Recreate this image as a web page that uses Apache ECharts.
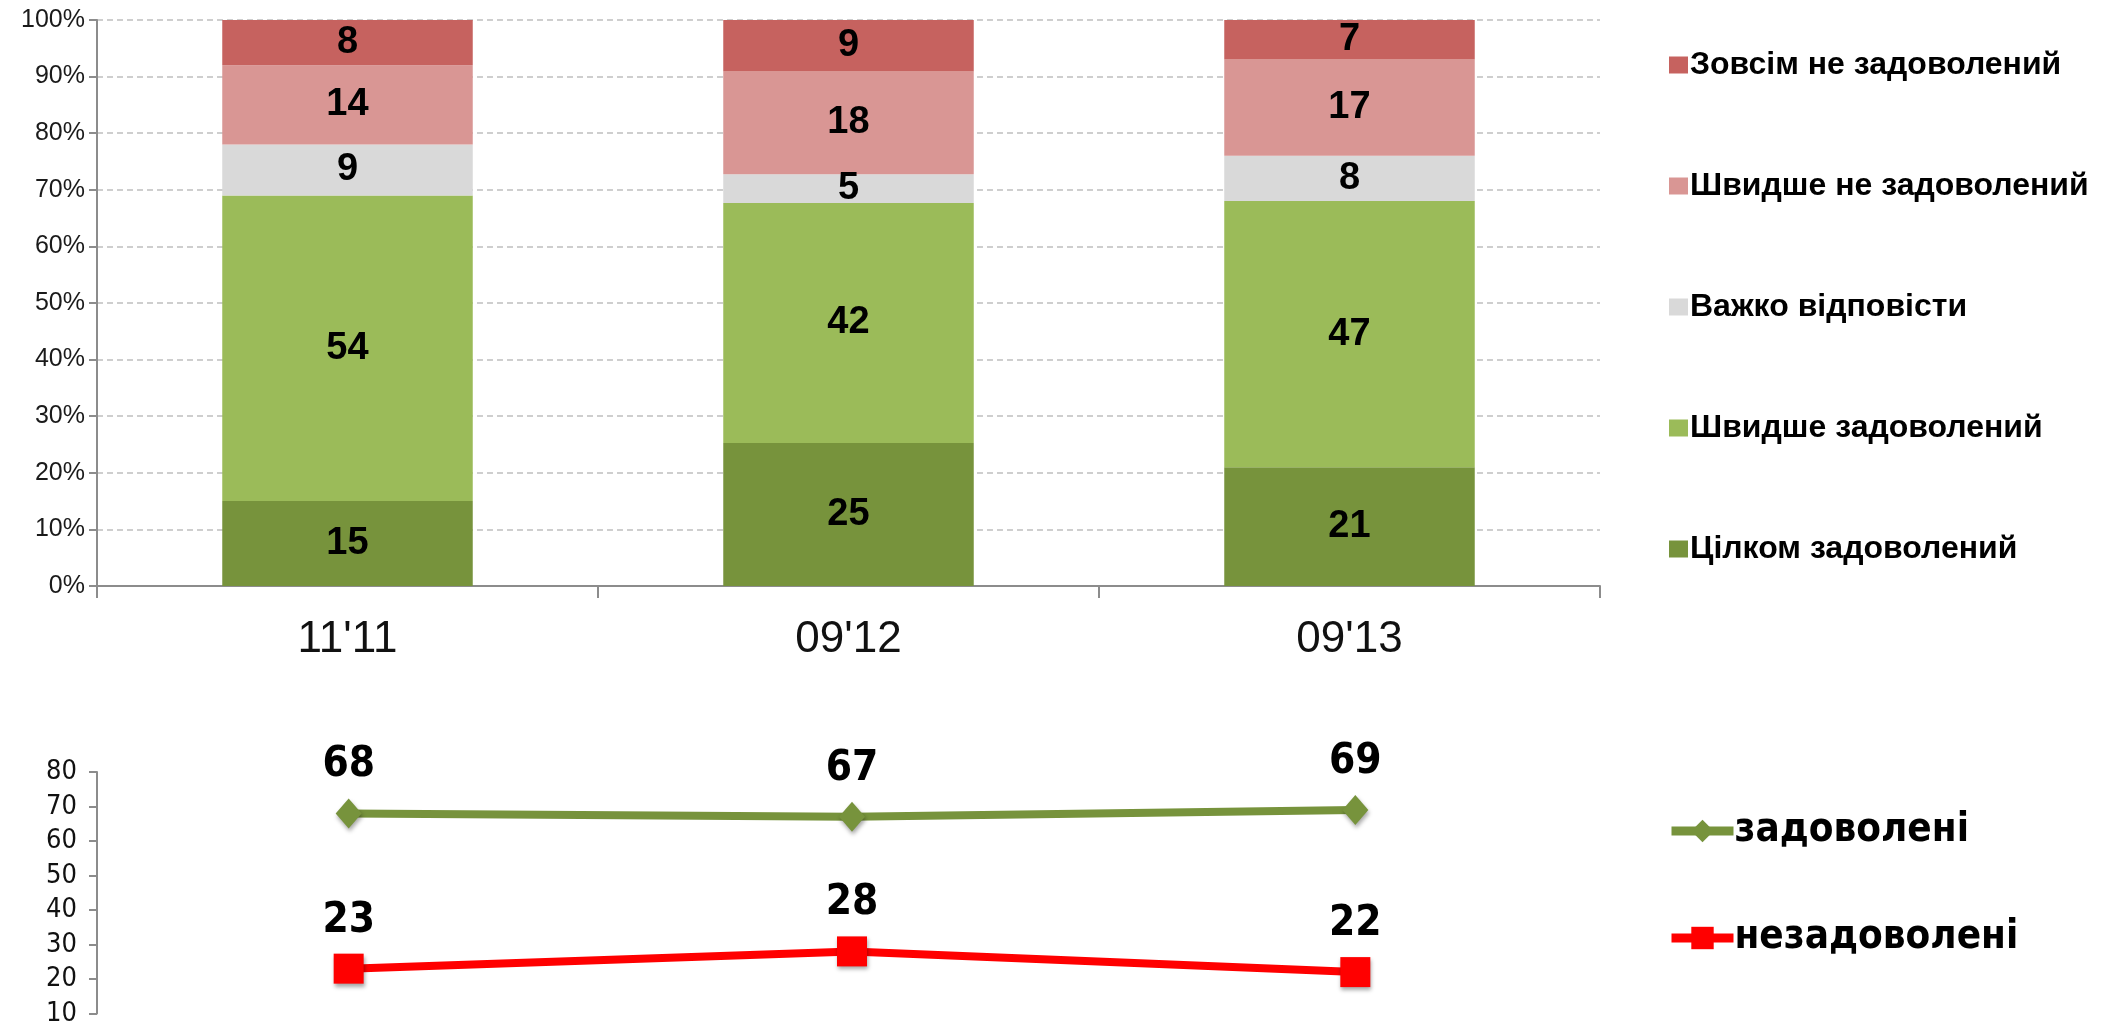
<!DOCTYPE html>
<html>
<head>
<meta charset="utf-8">
<title>Задоволеність</title>
<script src="https://cdn.jsdelivr.net/npm/echarts@6/dist/echarts.min.js"></script>
<style>
  html, body { margin: 0; padding: 0; background: #fff; }
  #main { width: 2112px; height: 1027px; }
</style>
</head>
<body>
<div id="main"></div>
<script>
// хвилі опитування
const waves = ["11'11", "09'12", "09'13"];

// верхній графік, % відповідей
const fullyYes = [15, 25, 21];
const ratherYes = [54, 42, 47];
const hardToSay = [9, 5, 8];
const ratherNo = [14, 18, 17];
const fullyNo = [8, 9, 7];

// нижній графік
const satisfied = [68, 67, 69];
const unsatisfied = [23, 28, 22];

const pctTicks = [0, 10, 20, 30, 40, 50, 60, 70, 80, 90, 100];

const ARIAL = "'Liberation Sans', Arial, sans-serif";
const NARROW = "'Liberation Sans Narrow', 'Arial Narrow', 'DejaVu Sans Condensed', sans-serif";

const stackDefs = [
  { name: "Цілком задоволений", data: fullyYes, color: "#77933C" },
  { name: "Швидше задоволений", data: ratherYes, color: "#9BBB59" },
  { name: "Важко відповісти", data: hardToSay, color: "#D9D9D9" },
  { name: "Швидше не задоволений", data: ratherNo, color: "#D99694" },
  { name: "Зовсім не задоволений", data: fullyNo, color: "#C6625F" },
];

// 100% stacked: each column is scaled to its own total
const totals = waves.map((w, i) => stackDefs.reduce((s, d) => s + d.data[i], 0));

const barSeries = stackDefs.map((d) => ({
  name: d.name,
  type: "bar",
  stack: "share",
  xAxisIndex: 0,
  yAxisIndex: 0,
  barWidth: "50%",
  itemStyle: { color: d.color },
  label: {
    show: true,
    position: "inside",
    fontFamily: ARIAL,
    fontWeight: "bold",
    fontSize: 38,
    color: "#000",
    formatter: (p) => d.data[p.dataIndex],
  },
  data: d.data.map((v, i) => (v / totals[i]) * 100),
}));

const lineLabel = {
  show: true,
  position: "top",
  distance: 12,
  fontFamily: NARROW,
  fontWeight: "bold",
  fontSize: 42,
  color: "#000",
};
const markShadow = {
  shadowBlur: 4,
  shadowColor: "rgba(0,0,0,0.35)",
  shadowOffsetX: 1,
  shadowOffsetY: 3,
};

const lineSeries = [
  {
    name: "задоволені",
    type: "line",
    xAxisIndex: 1,
    yAxisIndex: 1,
    symbol: "diamond",
    symbolSize: [26, 30],
    lineStyle: { color: "#77933C", width: 8 },
    itemStyle: Object.assign({ color: "#77933C" }, markShadow),
    label: lineLabel,
    data: satisfied,
  },
  {
    name: "незадоволені",
    type: "line",
    xAxisIndex: 1,
    yAxisIndex: 1,
    symbol: "rect",
    symbolSize: 30,
    lineStyle: { color: "#FF0000", width: 8 },
    itemStyle: Object.assign({ color: "#FF0000" }, markShadow),
    label: lineLabel,
    data: unsatisfied,
  },
];

const chart = echarts.init(document.getElementById("main"));
chart.setOption({
  animation: false,
  backgroundColor: "#fff",
  grid: [
    { left: 97, top: 20, right: 512, height: 566 },
    { left: 97, top: 772, right: 505, height: 245 },
  ],
  legend: [
    {
      orient: "vertical",
      left: 1664,
      top: 44,
      itemWidth: 19,
      itemHeight: 17,
      itemGap: 89,
      icon: "rect",
      data: stackDefs.map((d) => d.name).reverse(),
      textStyle: { fontFamily: ARIAL, fontWeight: "bold", fontSize: 32, color: "#000", padding: [0, 0, 0, -3] },
    },
    {
      orient: "vertical",
      left: 1662,
      top: 806,
      itemWidth: 62,
      itemHeight: 28,
      itemGap: 67,
      lineStyle: { width: 9 },
      data: ["задоволені", "незадоволені"],
      textStyle: { fontFamily: NARROW, fontWeight: "bold", fontSize: 40, color: "#000", padding: [0, 0, 0, -4] },
    },
  ],
  xAxis: [
    {
      gridIndex: 0,
      type: "category",
      data: waves,
      axisLine: { lineStyle: { color: "#8C8C8C", width: 2 } },
      axisTick: { show: true, length: 12, lineStyle: { color: "#8C8C8C", width: 2 } },
      axisLabel: { fontFamily: ARIAL, fontSize: 44, color: "#111", margin: 32 },
    },
    {
      gridIndex: 1,
      type: "category",
      data: waves,
      show: false,
    },
  ],
  yAxis: [
    {
      gridIndex: 0,
      type: "value",
      min: 0,
      max: 100,
      interval: 10,
      axisLine: { show: true, lineStyle: { color: "#8C8C8C", width: 2 } },
      axisTick: { show: true, length: 8, lineStyle: { color: "#8C8C8C", width: 2 } },
      splitLine: { lineStyle: { color: "#BFBFBF", type: [6, 4], width: 1.5 } },
      axisLabel: {
        fontFamily: ARIAL,
        fontSize: 25,
        color: "#1a1a1a",
        margin: 12,
        formatter: (v) => (pctTicks.includes(v) ? v + "%" : ""),
      },
    },
    {
      gridIndex: 1,
      type: "value",
      min: 10,
      max: 80,
      interval: 10,
      axisLine: { show: true, lineStyle: { color: "#8C8C8C", width: 2 } },
      axisTick: { show: true, length: 8, lineStyle: { color: "#8C8C8C", width: 2 } },
      splitLine: { show: false },
      axisLabel: { fontFamily: NARROW, fontSize: 27, color: "#111", margin: 20 },
    },
  ],
  series: barSeries.concat(lineSeries),
});
</script>
</body>
</html>
